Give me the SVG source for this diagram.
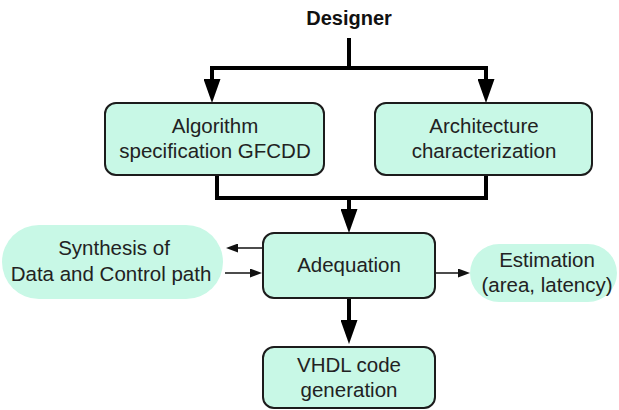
<svg xmlns="http://www.w3.org/2000/svg" width="619" height="410" viewBox="0 0 619 410">
  <style>
    .box { fill: #c8f8e6; stroke: #1c1c1c; stroke-width: 2; }
    .pill { fill: #c8f8e6; stroke: none; }
    .lbl { font-family: "Liberation Sans", Arial, sans-serif; font-size: 20.5px; fill: #222; text-anchor: middle; }
    .title { font-family: "Liberation Sans", Arial, sans-serif; font-size: 20px; font-weight: bold; fill: #111; text-anchor: middle; }
    .thick { fill: none; stroke: #000; stroke-width: 4; }
    .thin { fill: none; stroke: #111; stroke-width: 1.5; }
  </style>
  <defs>
    <marker id="headBig" markerUnits="userSpaceOnUse" markerWidth="24" markerHeight="17" refX="0" refY="8.5" orient="auto">
      <path d="M0,0 L24,8.5 L0,17 z" fill="#000"/>
    </marker>
    <marker id="headSmall" markerUnits="userSpaceOnUse" markerWidth="12" markerHeight="9" refX="0" refY="4.5" orient="auto">
      <path d="M0,0 L12,4.5 L0,9 z" fill="#111"/>
    </marker>
  </defs>

  <g id="designer">
    <text class="title" x="349" y="25">Designer</text>
  </g>

  <g id="connectors">
    <path class="thick" d="M349,38 V68"/>
    <path class="thick" d="M212,68 H486"/>
    <path class="thick" d="M212,66 V79" marker-end="url(#headBig)"/>
    <path class="thick" d="M486,66 V79" marker-end="url(#headBig)"/>
    <path class="thick" d="M217,175 V198 H486 V175"/>
    <path class="thick" d="M349,198 V209" marker-end="url(#headBig)"/>
    <path class="thick" d="M349,298 V320" marker-end="url(#headBig)"/>
    <path class="thin" d="M263,248 H238" marker-end="url(#headSmall)"/>
    <path class="thin" d="M225,273 H250" marker-end="url(#headSmall)"/>
    <path class="thin" d="M435,273 H458" marker-end="url(#headSmall)"/>
  </g>

  <g id="algorithm">
    <rect class="box" x="105" y="103" width="219" height="72" rx="11"/>
    <text class="lbl" x="215" y="133">Algorithm</text>
    <text class="lbl" x="215" y="158">specification GFCDD</text>
  </g>

  <g id="architecture">
    <rect class="box" x="375" y="103" width="217" height="72" rx="11"/>
    <text class="lbl" x="484" y="133">Architecture</text>
    <text class="lbl" x="484" y="158">characterization</text>
  </g>

  <g id="adequation">
    <rect class="box" x="263" y="233" width="172" height="65" rx="11"/>
    <text class="lbl" x="349" y="272">Adequation</text>
  </g>

  <g id="synthesis">
    <rect class="pill" x="2" y="225" width="221" height="74" rx="37"/>
    <text class="lbl" x="114" y="255">Synthesis of</text>
    <text class="lbl" x="111" y="281">Data and Control path</text>
  </g>

  <g id="estimation">
    <rect class="pill" x="470" y="244" width="147" height="58" rx="29"/>
    <text class="lbl" x="547" y="267">Estimation</text>
    <text class="lbl" x="547" y="292">(area, latency)</text>
  </g>

  <g id="vhdl">
    <rect class="box" x="263" y="347" width="172" height="61" rx="11"/>
    <text class="lbl" x="349" y="372">VHDL code</text>
    <text class="lbl" x="349" y="397">generation</text>
  </g>
</svg>
